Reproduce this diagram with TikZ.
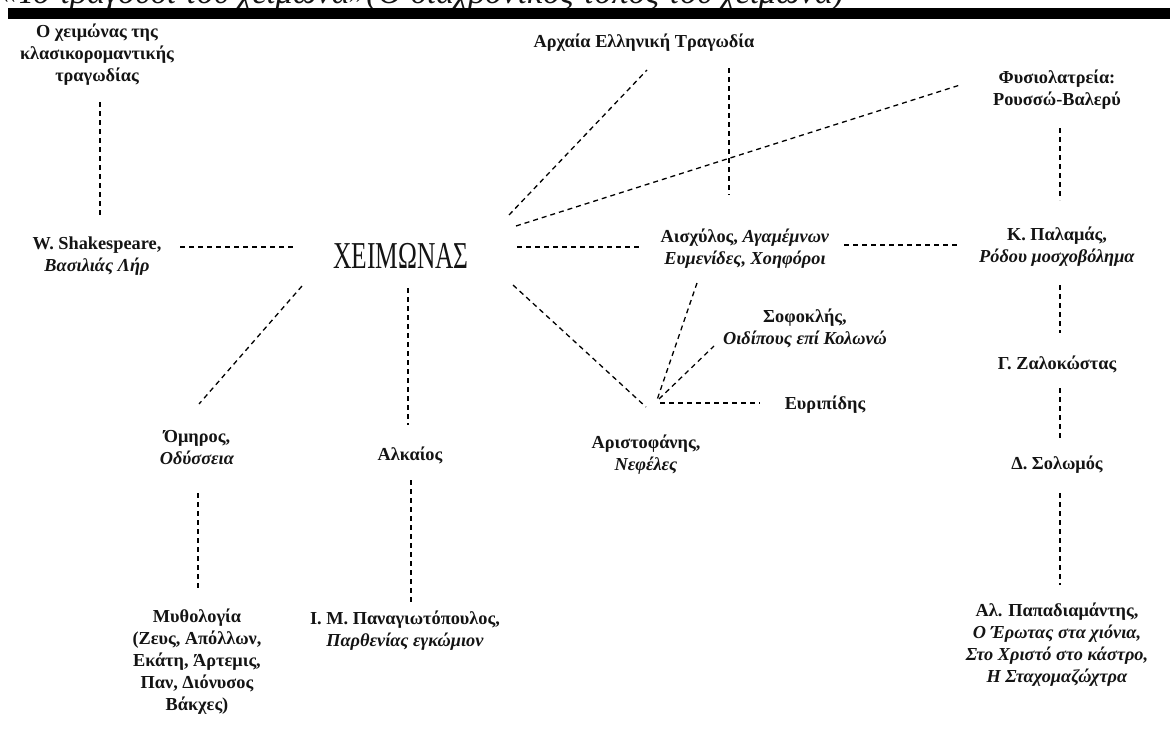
\documentclass[tikz,border=0pt]{standalone}
\usepackage{fontspec}
\usepackage{graphicx}
\setmainfont{Liberation Serif}
\usetikzlibrary{calc}
\definecolor{ink}{HTML}{141414}
\tikzset{
  dl/.style={draw=black, line width=1.3pt, dash pattern=on 5pt off 4pt},
  lbl/.style={align=center, inner sep=0pt, text=ink, font=\fontsize{18.3}{22}\selectfont\bfseries},
}
\begin{document}
\begin{tikzpicture}[x=1pt,y=-1pt]
\useasboundingbox (0,0) rectangle (1170,736);
\fill[white] (0,0) rectangle (1170,736);
% title (cut off at the top) and bar
\node[anchor=base west, inner sep=0pt, text=ink] (title) at (0,4)
  {\fontsize{34}{36}\selectfont\itshape «Το τραγούδι του χειμώνα»(Ο διαχρονικός τόπος του χειμώνα)};
\fill[black] (8,8) rectangle (1170,19);

% nodes
\node[lbl] (klass) at (97,55) {Ο χειμώνας της\\κλασικορομαντικής\\τραγωδίας};
\node[lbl] (shak) at (97,256) {W. Shakespeare,\\\textit{Βασιλιάς Λήρ}};
\node[inner sep=0pt, text=ink] (xeim) at (401,256) {\scalebox{0.67}[1]{\fontsize{38}{40}\selectfont ΧΕΙΜΩΝΑΣ}};
\node[lbl] (aisch) at (745,249) {Αισχύλος, \textit{Αγαμέμνων}\\\textit{Ευμενίδες, Χοηφόροι}};
\node[lbl] (palam) at (1057,247) {Κ. Παλαμάς,\\\textit{Ρόδου μοσχοβόλημα}};
\node[lbl] (fysio) at (1057,90) {Φυσιολατρεία:\\Ρουσσώ-Βαλερύ};
\node[lbl] (zalok) at (1057,364) {Γ. Ζαλοκώστας};
\node[lbl] (solom) at (1057,465) {Δ. Σολωμός};
\node[lbl] (papad) at (1057,645) {Αλ. Παπαδιαμάντης,\\\textit{Ο Έρωτας στα χιόνια,}\\\textit{Στο Χριστό στο κάστρο,}\\\textit{Η Σταχομαζώχτρα}};
\node[lbl] (archaia) at (644,43) {Αρχαία Ελληνική Τραγωδία};
\node[lbl] (omiros) at (197,448) {Όμηρος,\\\textit{Οδύσσεια}};
\node[lbl] (alkaios) at (410,455) {Αλκαίος};
\node[lbl] (mythol) at (197,662) {Μυθολογία\\(Ζευς, Απόλλων,\\Εκάτη, Άρτεμις,\\Παν, Διόνυσος\\Βάκχες)};
\node[lbl] (panag) at (405,631) {Ι. Μ. Παναγιωτόπουλος,\\\textit{Παρθενίας εγκώμιον}};
\node[lbl] (sofokl) at (805,328) {Σοφοκλής,\\\textit{Οιδίπους επί Κολωνώ}};
\node[lbl] (evrip) at (825,405) {Ευριπίδης};
\node[lbl] (aristof) at (646,455) {Αριστοφάνης,\\\textit{Νεφέλες}};
\coordinate (hub) at (656,402);

% connectors
\draw[dl] ($(klass)+(3,47)$) -- ($(shak)+(3,-41)$);
\draw[dl] ($(shak)+(83,-9)$) -- ($(xeim)+(-106,-9)$);
\draw[dl] ($(xeim)+(116,-9)$) -- ($(aisch)+(-105,-2)$);
\draw[dl] ($(aisch)+(99,-4)$) -- ($(palam)+(-99,-2)$);
\draw[dl] ($(fysio)+(3,38)$) -- ($(palam)+(3,-47)$);
\draw[dl] ($(palam)+(3,38)$) -- ($(zalok)+(3,-31)$);
\draw[dl] ($(zalok)+(3,24)$) -- ($(solom)+(3,-25)$);
\draw[dl] ($(solom)+(3,28)$) -- ($(papad)+(3,-60)$);
\draw[dl] ($(archaia)+(85,25)$) -- ($(aisch)+(-16,-54)$);
\draw[dl] ($(xeim)+(108,-41)$) -- ($(archaia)+(3,27)$);
\draw[dl] ($(xeim)+(115,-30)$) -- ($(fysio)+(-97,-5)$);
\draw[dl] ($(xeim)+(112,29)$) -- ($(hub)+(-10,5)$);
\draw[dl] ($(aisch)+(-48,34)$) -- ($(hub)+(1,-2)$);
\draw[dl] ($(hub)+(3,-3)$) -- ($(sofokl)+(-91,18)$);
\draw[dl] ($(hub)+(4,1)$) -- ($(evrip)+(-65,-2)$);
\draw[dl] ($(xeim)+(-99,30)$) -- ($(omiros)+(2,-44)$);
\draw[dl] ($(xeim)+(7,32)$) -- ($(alkaios)+(-2,-30)$);
\draw[dl] ($(omiros)+(1,45)$) -- ($(mythol)+(1,-74)$);
\draw[dl] ($(alkaios)+(1,25)$) -- ($(panag)+(6,-26)$);
\end{tikzpicture}
\end{document}
